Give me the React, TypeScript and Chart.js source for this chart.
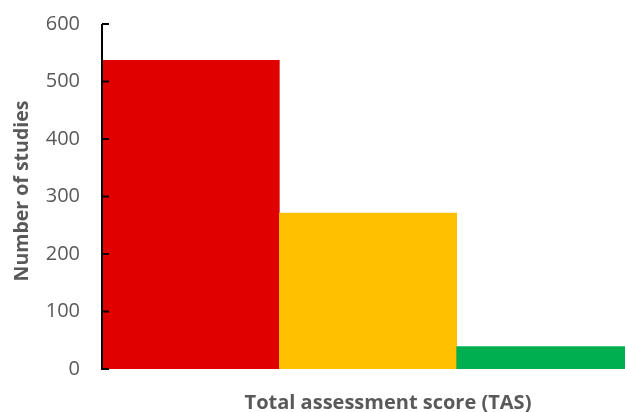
import React, { useEffect, useRef } from "react";
import { Chart, registerables } from "chart.js";

Chart.register(...registerables);

// Study counts per total assessment score band
const categories = ["Low", "Moderate", "High"];
const studyCounts = [537, 271, 39];
const barColors = ["#E00000", "#FFC000", "#00B050"];

const yTicks = { min: 0, max: 600, step: 100 };
const yTitle = "Number of studies";
const xTitle = "Total assessment score (TAS)";

const FONT = "'Open Sans', Lato, sans-serif";
const GREY = "#595959";

// Draws the y axis line with short inward tick marks on top of the bars,
// and both axis titles.
const axisDecor = {
  id: "axisDecor",
  afterDatasetsDraw(chart: any) {
    const { ctx, chartArea, scales } = chart;
    const y = scales.y;
    const x0 = chartArea.left;
    ctx.save();
    ctx.strokeStyle = "#000000";
    ctx.lineWidth = 2;
    ctx.beginPath();
    ctx.moveTo(x0, y.getPixelForValue(yTicks.max));
    ctx.lineTo(x0, y.getPixelForValue(yTicks.min) + 1);
    ctx.stroke();
    y.ticks.forEach((t: any) => {
      const py = y.getPixelForValue(t.value);
      ctx.beginPath();
      ctx.moveTo(x0, py);
      ctx.lineTo(x0 + 7, py);
      ctx.stroke();
    });

    ctx.fillStyle = GREY;
    ctx.textAlign = "center";

    // x axis title
    ctx.font = `bold 20px ${FONT}`;
    ctx.textBaseline = "alphabetic";
    ctx.fillText(xTitle, x0 + 286, chartArea.bottom + 40);

    // y axis title, rotated
    ctx.font = `bold 19.5px ${FONT}`;
    ctx.textBaseline = "middle";
    ctx.translate(22, chartArea.top + 167);
    ctx.rotate(-Math.PI / 2);
    ctx.fillText(yTitle, 0, 0);
    ctx.restore();
  },
};

export default function App() {
  const canvasRef = useRef<HTMLCanvasElement | null>(null);

  useEffect(() => {
    if (!canvasRef.current) return;
    const chart = new Chart(canvasRef.current, {
      type: "bar",
      data: {
        labels: categories,
        datasets: [
          {
            data: studyCounts,
            backgroundColor: barColors,
            borderWidth: 0,
            barPercentage: 1,
            categoryPercentage: 1,
          },
        ],
      },
      options: {
        animation: false,
        responsive: true,
        maintainAspectRatio: false,
        layout: { padding: { top: 24, right: 0, bottom: 43, left: 0 } },
        plugins: {
          legend: { display: false },
          tooltip: { enabled: false },
        },
        scales: {
          x: { display: false },
          y: {
            min: yTicks.min,
            max: yTicks.max,
            afterFit(scale: any) {
              scale.width = 102;
              scale.paddingTop = 12;
              scale.paddingBottom = 12;
            },
            grid: { display: false, drawTicks: false },
            border: { display: false },
            ticks: {
              stepSize: yTicks.step,
              padding: 22,
              color: GREY,
              font: { family: FONT, size: 20 },
            },
          },
        },
      },
      plugins: [axisDecor],
    });
    return () => chart.destroy();
  }, []);

  return (
    <div
      style={{
        position: "fixed",
        left: 0,
        top: 0,
        width: 625,
        height: 412,
        overflow: "hidden",
        background: "#ffffff",
      }}
    >
      <div style={{ position: "relative", width: 634, height: 412 }}>
        <canvas ref={canvasRef} />
      </div>
    </div>
  );
}
